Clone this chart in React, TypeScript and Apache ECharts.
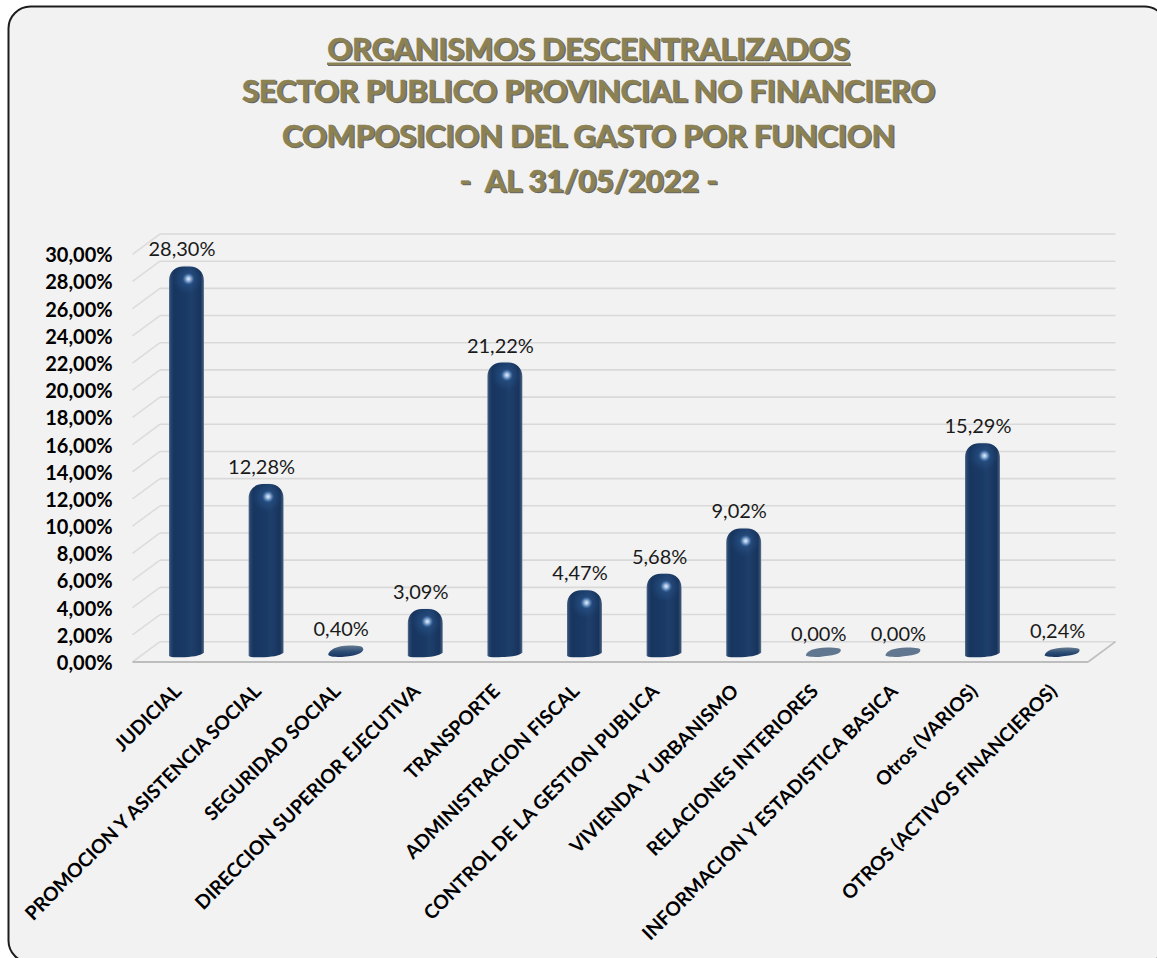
import React, { useEffect, useRef } from "react";
import * as echarts from "echarts";

const categories = [
  "JUDICIAL",
  "PROMOCION Y ASISTENCIA SOCIAL",
  "SEGURIDAD SOCIAL",
  "DIRECCION SUPERIOR EJECUTIVA",
  "TRANSPORTE",
  "ADMINISTRACION FISCAL",
  "CONTROL DE LA GESTION PUBLICA",
  "VIVIENDA Y URBANISMO",
  "RELACIONES INTERIORES",
  "INFORMACION Y ESTADISTICA BASICA",
  "Otros (VARIOS)",
  "OTROS (ACTIVOS FINANCIEROS)",
];
const values = [28.3, 12.28, 0.4, 3.09, 21.22, 4.47, 5.68, 9.02, 0, 0, 15.29, 0.24];
const ticks = [0, 2, 4, 6, 8, 10, 12, 14, 16, 18, 20, 22, 24, 26, 28, 30];
const titleLines = [
  "ORGANISMOS DESCENTRALIZADOS",
  "SECTOR PUBLICO PROVINCIAL NO FINANCIERO",
  "COMPOSICION DEL GASTO POR FUNCION",
  "-  AL 31/05/2022 -",
];

const pct = (v: number) => v.toFixed(2).replace(".", ",") + "%";

const GRID_LEFT = 146.7;
const GRID_TOP = 254.3;
const GRID_BOTTOM_Y = 662;
const GRID_WIDTH = 955.2;
const FRONT_LEFT = 132.5;
const FRONT_RIGHT = 1088;
const DEPTH_X = 27.5;
const DEPTH_Y = 20.3;
const BAR_W = 35;
const BASE_Y = 656.5;
const LIFT = 11;

const FONT = "Lato";
const TITLE_Y = [48, 90, 135, 180];
const TITLE_COLOR = "#8b8152";

function renderWall(_params: any, api: any) {
  const v = api.value(1);
  const y = api.coord([0, v])[1];
  const line = (x1: number, y1: number, x2: number, y2: number, stroke: string, w: number) => ({
    type: "line",
    shape: { x1, y1, x2, y2 },
    style: { stroke, lineWidth: w, fill: "none" },
  });
  const children: any[] = [
    line(FRONT_LEFT, y, FRONT_LEFT + DEPTH_X, y - DEPTH_Y, "#dcdcdc", 1.6),
    line(FRONT_LEFT + DEPTH_X, y - DEPTH_Y, FRONT_RIGHT + DEPTH_X, y - DEPTH_Y, "#d9d9d9", 1.6),
  ];
  if (v === 0) {
    children.push(line(FRONT_LEFT, y, FRONT_RIGHT, y, "#bdbdbd", 2));
    children.push(line(FRONT_RIGHT, y, FRONT_RIGHT + DEPTH_X, y - DEPTH_Y, "#bdbdbd", 1.6));
  }
  return { type: "group", children };
}

function renderBar(_params: any, api: any) {
  const v = api.value(1);
  const [cx, cy] = api.coord([api.value(0), v]);
  const x0 = cx - BAR_W / 2;
  const x1 = cx + BAR_W / 2;
  const top = cy - LIFT;
  const text = {
    type: "text",
    z2: 5,
    style: {
      text: pct(v),
      x: cx - 4.5,
      y: top - 18,
      align: "center",
      verticalAlign: "middle",
      font: `20px ${FONT}`,
      fill: "#1a1a1a",
    },
  };
  if (BASE_Y - top < 24) {
    const t = Math.min(top, BASE_Y - 9);
    const m = (t + BASE_Y) / 2;
    const d = `M${x0},${m + 3} C${x0 + 1},${m - 1} ${x0 + 8},${t} ${cx + 4},${t} C${x1 - 3},${t} ${x1},${t + 1} ${x1},${m - 2} C${x1},${m + 2} ${x1 - 8},${BASE_Y - 1} ${cx - 4},${BASE_Y} C${x0 + 3},${BASE_Y + 0.5} ${x0},${BASE_Y - 1} ${x0},${m + 3} Z`;
    const fill =
      v === 0
        ? "#60778f"
        : new echarts.graphic.LinearGradient(0, 0, 0, 1, [
            { offset: 0, color: "#64798f" },
            { offset: 0.55, color: "#2c4c75" },
            { offset: 1, color: "#17355f" },
          ]);
    return {
      type: "group",
      children: [{ type: "path", shape: { pathData: d, layout: "cover", x: x0, y: t, width: BAR_W, height: BASE_Y - t + 0.5 }, style: { fill } }, text],
    };
  }
  const r = 14;
  const d = `M${x0},${BASE_Y - 1} L${x0},${top + r} C${x0},${top + 6} ${x0 + 6},${top} ${x0 + r},${top} L${x1 - r},${top} C${x1 - 6},${top} ${x1},${top + 6} ${x1},${top + r} L${x1},${BASE_Y - 4} C${x1 - 4},${BASE_Y - 1} ${x1 - 12},${BASE_Y + 0.5} ${cx - 6},${BASE_Y + 0.5} C${x0 + 5},${BASE_Y + 0.8} ${x0 + 1},${BASE_Y + 0.3} ${x0},${BASE_Y - 1} Z`;
  const shape = { pathData: d, layout: "cover", x: x0, y: top, width: BAR_W, height: BASE_Y - top + 0.8 };
  return {
    type: "group",
    children: [
      {
        type: "path",
        shape,
        style: {
          fill: new echarts.graphic.LinearGradient(0, 0, 1, 0, [
            { offset: 0, color: "#5d7390" },
            { offset: 0.05, color: "#25446e" },
            { offset: 0.14, color: "#17355f" },
            { offset: 0.5, color: "#1a3a66" },
            { offset: 0.62, color: "#1f3f6b" },
            { offset: 0.9, color: "#17345d" },
            { offset: 0.97, color: "#3a5375" },
            { offset: 1, color: "#76879d" },
          ]),
        },
      },
      {
        type: "circle",
        shape: { cx: cx + 1, cy: top + 13, r: 15 },
        style: {
          fill: new echarts.graphic.RadialGradient(0.5, 0.5, 0.5, [
            { offset: 0, color: "rgba(50,100,160,0.7)" },
            { offset: 1, color: "rgba(40,85,140,0)" },
          ]),
        },
      },
      {
        type: "circle",
        shape: { cx: cx + 2, cy: top + 12.5, r: 6 },
        style: {
          fill: new echarts.graphic.RadialGradient(0.5, 0.5, 0.5, [
            { offset: 0, color: "rgba(235,242,252,1)" },
            { offset: 0.4, color: "rgba(170,200,235,0.8)" },
            { offset: 1, color: "rgba(90,140,200,0)" },
          ]),
        },
      },
      text,
    ],
  };
}

export default function App() {
  const ref = useRef<HTMLDivElement>(null);

  useEffect(() => {
    document.body.style.margin = "0";
    document.body.style.overflow = "hidden";
    const chart = echarts.init(ref.current!, null, { renderer: "svg" });
    const titleText = (t: string, i: number) => [
      {
        type: "text",
        z: 3,
        style: {
          text: t,
          x: 588.5 + 1.6,
          y: TITLE_Y[i] + 1.8,
          align: "center",
          verticalAlign: "middle",
          font: `bold 30.6px ${FONT}`,
          fill: "rgba(50,50,50,0.7)",
          stroke: "rgba(50,50,50,0.7)",
          lineWidth: 0.5,
        },
      },
      {
        type: "text",
        z: 4,
        style: {
          text: t,
          x: 588.5,
          y: TITLE_Y[i],
          align: "center",
          verticalAlign: "middle",
          font: `bold 30.6px ${FONT}`,
          fill: TITLE_COLOR,
          stroke: TITLE_COLOR,
          lineWidth: 0.6,
        },
      },
    ];
    chart.setOption({
      animation: false,
      backgroundColor: "#ffffff",
      grid: {
        left: GRID_LEFT,
        top: GRID_TOP,
        width: GRID_WIDTH,
        height: GRID_BOTTOM_Y - GRID_TOP,
        containLabel: false,
      },
      xAxis: {
        type: "category",
        data: categories,
        axisLine: { show: false },
        axisTick: { show: false },
        splitLine: { show: false },
        axisLabel: {
          interval: 0,
          rotate: 45,
          margin: 16,
          padding: [0, 13, 0, 0],
          color: "#000",
          fontFamily: FONT,
          fontWeight: "bold",
          fontSize: 19.3,
        },
      },
      yAxis: {
        type: "value",
        min: 0,
        max: 30,
        interval: 2,
        axisLine: { show: false },
        axisTick: { show: false },
        splitLine: { show: false },
        axisLabel: {
          margin: 34,
          padding: [4, 0, 0, 0],
          color: "#000",
          fontFamily: FONT,
          fontWeight: "bold",
          fontSize: 20,
          formatter: (v: number) => pct(v),
        },
      },
      graphic: [
        {
          type: "rect",
          z: -1,
          silent: true,
          shape: { x: 8.5, y: 6.5, width: 1158, height: 956, r: 22 },
          style: { fill: "#f2f2f2", stroke: "#1c1c1c", lineWidth: 2 },
        },
        ...titleLines.flatMap(titleText),
        {
          type: "rect",
          z: 3,
          shape: { x: 328, y: 63.5, width: 523, height: 2.5 },
          style: { fill: "rgba(50,50,50,0.7)" },
        },
        {
          type: "rect",
          z: 4,
          shape: { x: 327, y: 62.5, width: 523, height: 2.5 },
          style: { fill: TITLE_COLOR },
        },
      ],
      series: [
        {
          type: "custom",
          name: "grid",
          z: 1,
          silent: true,
          clip: false,
          data: ticks.map((t) => [0, t]),
          encode: { x: 0, y: 1 },
          renderItem: renderWall,
        },
        {
          type: "custom",
          name: "values",
          z: 2,
          clip: false,
          data: values.map((v, i) => [i, v]),
          encode: { x: 0, y: 1 },
          renderItem: renderBar,
        },
      ],
    });
    return () => chart.dispose();
  }, []);

  return <div ref={ref} style={{ position: "absolute", left: 0, top: 0, width: 1157, height: 958 }} />;
}
